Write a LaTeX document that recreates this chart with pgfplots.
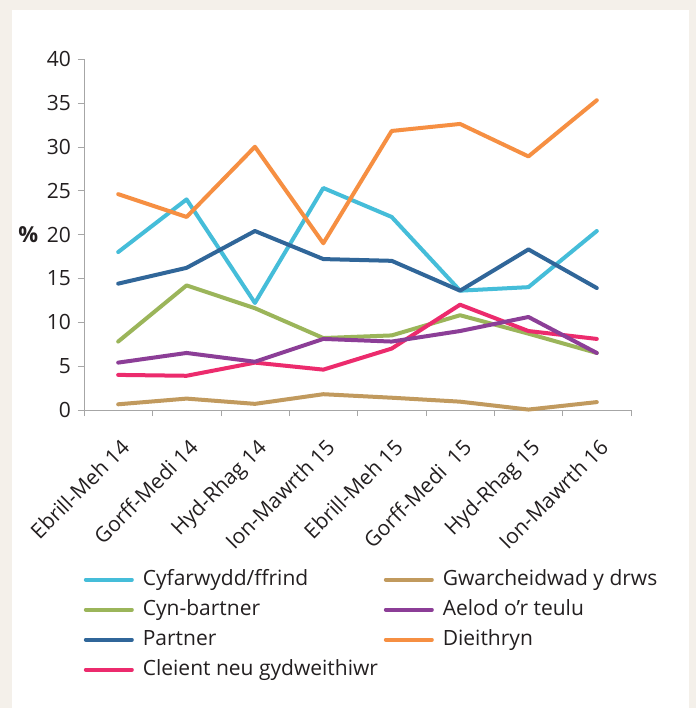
\documentclass[border=0pt]{standalone}
\usepackage{fontspec}
\setmainfont{Open Sans}
\usepackage{pgfplots}
\pgfplotsset{compat=1.18}
\definecolor{frameBg}{HTML}{F4F0EA}
\definecolor{axisGray}{HTML}{A6A6A6}
\definecolor{inkText}{HTML}{231F20}
\definecolor{cFriend}{HTML}{45BDD9}
\definecolor{cExPartner}{HTML}{9BB55A}
\definecolor{cPartner}{HTML}{306699}
\definecolor{cClient}{HTML}{EC2B6D}
\definecolor{cDoor}{HTML}{C19A5E}
\definecolor{cFamily}{HTML}{8C3E97}
\definecolor{cStranger}{HTML}{F68F42}

\begin{document}
\begin{tikzpicture}
\useasboundingbox (0,0) rectangle (348pt,354pt);
\fill[frameBg] (0,0) rectangle (348pt,354pt);
\fill[white] (6pt,0) rectangle (344.5pt,349pt);
\begin{axis}[
  at={(42pt,149pt)},
  anchor=south west,
  scale only axis,
  width=273.5pt,
  height=175.5pt,
  xmin=-0.5, xmax=7.5,
  ymin=0, ymax=40,
  axis lines=left,
  axis line style={draw=axisGray, -},
  xtick={0,...,7},
  xticklabels={Ebrill-Meh 14,Gorff-Medi 14,Hyd-Rhag 14,Ion-Mawrth 15,Ebrill-Meh 15,Gorff-Medi\ \ 15,Hyd-Rhag 15,Ion-Mawrth 16},
  minor xtick={-0.5,0.5,...,7.5},
  major x tick style={draw=none},
  minor x tick style={draw=axisGray},
  ytick={0,5,...,40},
  y tick style={draw=axisGray},
  tick align=outside,
  major tick length=3pt,
  minor tick length=3pt,
  tick label style={font=\fontsize{10.5}{12}\selectfont, text=inkText},
  xticklabel style={xshift=0.7pt, yshift=-10.6pt, rotate=45, anchor=north east, inner sep=0pt},
  /pgf/number format/assume math mode=true,
  ylabel={\textbf{\%}},
  ylabel style={rotate=-90, at={(axis description cs:-0.102,0.5)}, anchor=center, text=inkText, font=\fontsize{11}{13}\selectfont},
  every axis plot/.append style={line width=2pt, line join=round, line cap=round},
  legend style={draw=none, fill=none, at={(axis description cs:-0.012,-0.445)}, anchor=north west,
    font=\fontsize{10.5}{12}\selectfont, text=inkText, row sep=6pt, column sep=0pt,
    nodes={inner sep=0pt, text height=7.5pt, text depth=1.5pt}},
  legend columns=2,
  legend cell align=left,
  legend image code/.code={\draw[#1, line width=2pt, line cap=round] (0pt,0pt) -- (23pt,0pt);},
  clip=false,
]
\addplot[cFriend, forget plot] coordinates {(0,18.0) (1,24.0) (2,12.2) (3,25.3) (4,22.0) (5,13.6) (6,14.0) (7,20.4)};
\addplot[cExPartner, forget plot] coordinates {(0,7.8) (1,14.2) (2,11.6) (3,8.2) (4,8.5) (5,10.8) (6,8.7) (7,6.5)};
\addplot[cPartner, forget plot] coordinates {(0,14.4) (1,16.2) (2,20.4) (3,17.2) (4,17.0) (5,13.6) (6,18.3) (7,13.9)};
\addplot[cClient, forget plot] coordinates {(0,4.0) (1,3.9) (2,5.4) (3,4.6) (4,7.0) (5,12.0) (6,9.0) (7,8.1)};
\addplot[cDoor, forget plot] coordinates {(0,0.65) (1,1.3) (2,0.7) (3,1.8) (4,1.4) (5,0.95) (6,0.05) (7,0.9)};
\addplot[cFamily, forget plot] coordinates {(0,5.4) (1,6.5) (2,5.5) (3,8.1) (4,7.8) (5,9.0) (6,10.6) (7,6.5)};
\addplot[cStranger, forget plot] coordinates {(0,24.6) (1,22.0) (2,30.0) (3,19.0) (4,31.8) (5,32.6) (6,28.9) (7,35.3)};

\addlegendimage{cFriend}\addlegendentry{\hspace{4.5pt}\makebox[120.5pt][l]{Cyfarwydd/ffrind}}
\addlegendimage{cDoor}\addlegendentry{\hspace{4.5pt}Gwarcheidwad y drws}
\addlegendimage{cExPartner}\addlegendentry{\hspace{4.5pt}\makebox[120.5pt][l]{Cyn-bartner}}
\addlegendimage{cFamily}\addlegendentry{\hspace{4.5pt}Aelod o’r teulu}
\addlegendimage{cPartner}\addlegendentry{\hspace{4.5pt}\makebox[120.5pt][l]{Partner}}
\addlegendimage{cStranger}\addlegendentry{\hspace{4.5pt}Dieithryn}
\addlegendimage{cClient}\addlegendentry{\hspace{4.5pt}\makebox[120.5pt][l]{Cleient neu gydweithiwr}}
\end{axis}
\end{tikzpicture}
\end{document}
